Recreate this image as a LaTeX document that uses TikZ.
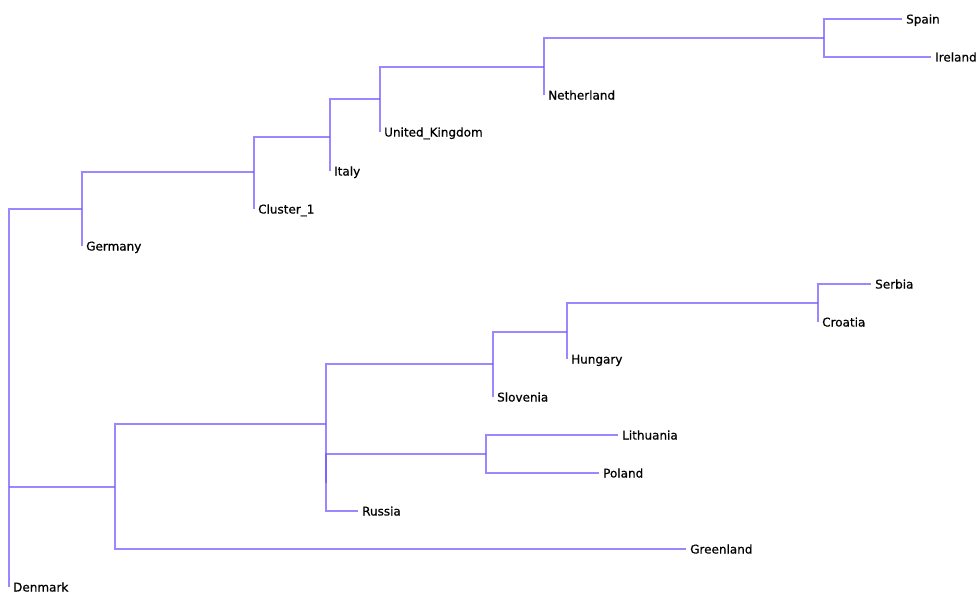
\documentclass[tikz,border=0pt]{standalone}
\usepackage{fontspec}
\setmainfont{DejaVu Sans}
\newfontfamily\lblfont[FakeBold=0.7]{DejaVu Sans}
\definecolor{brc}{RGB}{110,85,255}
\tikzset{
  br/.style={draw=brc, draw opacity=0.7, line width=1.1pt},
  lbl/.style={anchor=base west, inner sep=0pt, xshift=4pt, yshift=-4.5pt, font=\lblfont\fontsize{12}{14}\selectfont, text=black}
}
\begin{document}
\begin{tikzpicture}[x=1pt,y=-1pt]
\useasboundingbox (0,0) rectangle (979,594);
% leaf ends
\coordinate (sp) at (902,19);
\coordinate (ir) at (931,57);
\coordinate (ne) at (544,95);
\coordinate (uk) at (380,132);
\coordinate (it) at (330,171);
\coordinate (c1) at (254,209);
\coordinate (ge) at (82,246);
\coordinate (se) at (871,284);
\coordinate (cr) at (818,322);
\coordinate (hu) at (567,359);
\coordinate (sl) at (493,397);
\coordinate (li) at (618,435);
\coordinate (po) at (599,473);
\coordinate (ru) at (358,511);
\coordinate (gl) at (686,549);
\coordinate (dk) at (9,587);
% internal nodes
\coordinate (nSI) at (824,38);
\coordinate (nN) at (544,67);
\coordinate (nUK) at (380,99);
\coordinate (nIt) at (330,137);
\coordinate (nC) at (254,172);
\coordinate (nG) at (82,209);
\coordinate (root) at (9,487);
\coordinate (nB) at (115,487);
\coordinate (nRU) at (326,424);
\coordinate (nSH) at (493,364);
\coordinate (nHS) at (567,332);
\coordinate (nSC) at (818,303);
\coordinate (nLR) at (326,483);
\coordinate (nLP) at (486,454);
% branches
\draw[br] (sp) -| (nSI) |- (ir);
\draw[br] (nSI) -| (nN) |- (ne);
\draw[br] (nN) -| (nUK) |- (uk);
\draw[br] (nUK) -| (nIt) |- (it);
\draw[br] (nIt) -| (nC) |- (c1);
\draw[br] (nC) -| (nG) |- (ge);
\draw[br] (nG) -| (root) |- (dk);
\draw[br] (root) -- (nB);
\draw[br] (nRU) -| (nB) |- (gl);
\draw[br] (nSH) -| (nRU) |- (nLR);
\draw[br] (nLP) -| (nLR) |- (ru);
\draw[br] (li) -| (nLP) |- (po);
\draw[br] (nHS) -| (nSH) |- (sl);
\draw[br] (nSC) -| (nHS) |- (hu);
\draw[br] (se) -| (nSC) |- (cr);
% labels
\node[lbl] (Lsp) at (sp) {Spain};
\node[lbl] (Lir) at (ir) {Ireland};
\node[lbl] (Lne) at (ne) {Netherland};
\node[lbl] (Luk) at (uk) {United\_Kingdom};
\node[lbl] (Lit) at (it) {Italy};
\node[lbl] (Lc1) at (c1) {Cluster\_1};
\node[lbl] (Lge) at (ge) {Germany};
\node[lbl] (Lse) at (se) {Serbia};
\node[lbl] (Lcr) at (cr) {Croatia};
\node[lbl] (Lhu) at (hu) {Hungary};
\node[lbl] (Lsl) at (sl) {Slovenia};
\node[lbl] (Lli) at (li) {Lithuania};
\node[lbl] (Lpo) at (po) {Poland};
\node[lbl] (Lru) at (ru) {Russia};
\node[lbl] (Lgl) at (gl) {Greenland};
\node[lbl] (Ldk) at (dk) {Denmark};
\end{tikzpicture}
\end{document}
